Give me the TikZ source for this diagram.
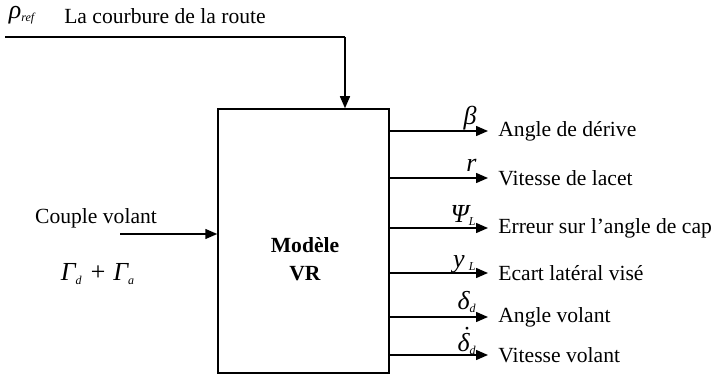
\documentclass[tikz,border=0pt]{standalone}
\usepackage{fontspec}
\setmainfont{Liberation Serif}
\usetikzlibrary{arrows.meta,positioning}

\tikzset{
  wire/.style={line width=0.75pt},
  arr/.style={wire, -{Triangle[length=6pt,width=5pt]}},
  txt/.style={font=\fontsize{10.8}{12}\selectfont, inner sep=1pt},
  sym/.style={font=\fontsize{13}{14}\selectfont\itshape, inner sep=0pt},
}
\newcommand{\idx}[1]{\textsubscript{\fontsize{6}{6}\selectfont\itshape #1}}

\begin{document}
\begin{tikzpicture}[x=0.5pt,y=-0.5pt]
\useasboundingbox (0,0) rectangle (713,374);

% Bloc du modele
\node[draw, wire, minimum width=85.5pt, minimum height=132pt, inner sep=0pt] (vr) at (303.5,241) {};
\node[txt, font=\fontsize{10.8}{14}\selectfont\bfseries, align=center] (vrlabel) at (305,259) {Modèle\\VR};

% Entree : courbure de la route
\node[sym] (rho) at (22,15) {ρ\idx{ref}};
\node[txt] (courbure) at (165,16) {La courbure de la route};
\coordinate (start) at (5,37);
\coordinate (bend) at (345,37);
\draw[wire] (start) -- (bend);
\draw[arr] (bend) -- (bend |- vr.north);

% Entree : couple volant
\node[txt] (couple) at (96,218) {Couple volant};
\node[sym] (gamma) at (98,274) {Γ\idx{d} + Γ\idx{a}};
\coordinate (in) at (120,234);
\draw[arr] (in) -- (vr.west |- in);

% Sorties
\foreach \yy/\lift/\sig/\txt [count=\k] in {
    131/6/{β}/Angle de dérive,
    178/6/{r}/Vitesse de lacet,
    228/6/{Ψ\idx{L}}/Erreur sur l’angle de cap,
    273/6/{y\,\idx{L}}/Ecart latéral visé,
    317/8/{δ\idx{d}}/Angle volant,
    355/4/{\accent"02D9 δ\idx{d}}/Vitesse volant} {
  \node[txt, anchor=west] (out\k) at (496,\yy) {\txt};
  \draw[arr, shorten >=4pt] (vr.east |- out\k.west) -- (out\k.west);
  \node[sym, anchor=base east] (sig\k) at (477,\yy-\lift) {\sig};
}
\end{tikzpicture}
\end{document}
